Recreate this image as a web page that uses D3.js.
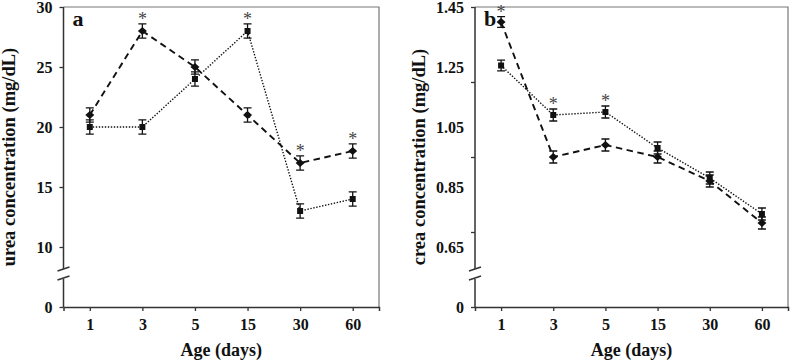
<!DOCTYPE html>
<html>
<head>
<meta charset="utf-8">
<script src="https://cdn.jsdelivr.net/npm/d3@7"></script>
<style>
  body { margin: 0; background: #fff; }
  svg text { font-family: "Liberation Serif", "Times New Roman", serif; fill: #111; }
</style>
</head>
<body>
<div id="chart"></div>
<script>
// ages on the x axis
const ages = ["1", "3", "5", "15", "30", "60"];

// panel a: urea (mg/dL)
const ureaDashed = [21, 28, 25, 21, 17, 18];
const ureaDotted = [20, 20, 24, 28, 13, 14];
const ureaErr = [0.6, 0.6, 0.6, 0.6, 0.6, 0.6];
const ureaStars = ["3", "15", "30", "60"];
const ureaLabels = [0, 10, 15, 20, 25, 30];
const ureaTicks = [0, 10, 15, 20, 25, 30];

// panel b: crea (mg/dL)
const creaDashed = [1.40, 0.95, 0.99, 0.95, 0.87, 0.73];
const creaDotted = [1.255, 1.09, 1.10, 0.98, 0.88, 0.76];
const creaErr = [0.018, 0.02, 0.02, 0.02, 0.02, 0.02];
const creaStars = ["1", "3", "5"];
const creaLabels = [0, 0.65, 0.85, 1.05, 1.25, 1.45];
const creaTicks = [0, 0.7, 0.95, 1.2, 1.45];

const width = 791, height = 362;

const svg = d3.select("#chart")
  .append("svg")
  .attr("width", width)
  .attr("height", height);

function drawPanel(opt) {
  const top = 7, bottom = 307;
  const g = svg.append("g");

  const x = d3.scalePoint()
    .domain(ages)
    .range([opt.left, opt.right])
    .padding(0.5);

  // broken axis: the part under the break is squeezed
  const y = d3.scaleLinear()
    .domain([0, opt.breakAt, opt.max])
    .range([bottom, bottom - 60, top]);

  // frame (top + right)
  g.append("path")
    .attr("d", `M${opt.left},${top}H${opt.right}V${bottom}`)
    .attr("fill", "none")
    .attr("stroke", "#777")
    .attr("stroke-width", 1.2);

  // x axis
  const xAxis = g.append("g")
    .attr("transform", `translate(0,${bottom})`)
    .call(d3.axisBottom(x).tickSizeInner(4).tickSizeOuter(4).tickPadding(8));
  xAxis.select(".domain").attr("stroke", "#333").attr("stroke-width", 1.5);
  xAxis.selectAll(".tick line").attr("stroke", "#333").attr("stroke-width", 1.3);
  xAxis.selectAll("text")
    .attr("font-size", 16)
    .attr("font-weight", "bold")
    .attr("fill", "#111")
    .style("font-family", "'Liberation Serif', serif");

  // y tick marks
  const yTicks = g.append("g")
    .attr("transform", `translate(${opt.left},0)`)
    .call(d3.axisLeft(y).tickValues(opt.ticks).tickSize(4).tickFormat(""));
  yTicks.select(".domain").remove();
  yTicks.selectAll(".tick line").attr("stroke", "#333").attr("stroke-width", 1.3);

  // y labels
  const yLabels = g.append("g")
    .attr("transform", `translate(${opt.left},0)`)
    .call(d3.axisLeft(y).tickValues(opt.labels).tickSize(0).tickPadding(11)
      .tickFormat(d => d === 0 ? "0" : (opt.fmt ? d3.format(opt.fmt)(d) : d)));
  yLabels.select(".domain").remove();
  yLabels.selectAll("text")
    .attr("font-size", 16)
    .attr("font-weight", "bold")
    .attr("fill", "#111")
    .style("font-family", "'Liberation Serif', serif");

  // y axis line with break
  const yb1 = 269, yb2 = 278;
  g.append("path")
    .attr("d", `M${opt.left},${top}V${yb1}M${opt.left},${yb2 + 1}V${bottom}`)
    .attr("stroke", "#333")
    .attr("stroke-width", 1.5);
  [yb1, yb2].forEach(yy => {
    g.append("line")
      .attr("x1", opt.left - 6).attr("y1", yy + 2)
      .attr("x2", opt.left + 6).attr("y2", yy - 2)
      .attr("stroke", "#333")
      .attr("stroke-width", 1.4);
  });

  // lines
  const line = d3.line()
    .x((d, i) => x(ages[i]))
    .y(d => y(d));

  g.append("path")
    .datum(opt.dotted)
    .attr("d", line)
    .attr("fill", "none")
    .attr("stroke", "#111")
    .attr("stroke-width", 1.4)
    .attr("stroke-dasharray", "1.4,1.6");

  g.append("path")
    .datum(opt.dashed)
    .attr("d", line)
    .attr("fill", "none")
    .attr("stroke", "#111")
    .attr("stroke-width", 1.9)
    .attr("stroke-dasharray", "6.5,4.5");

  // error bars
  [opt.dashed, opt.dotted].forEach(series => {
    series.forEach((v, i) => {
      const cx = x(ages[i]);
      const y1 = y(v - opt.err[i]), y2 = y(v + opt.err[i]);
      g.append("path")
        .attr("d", `M${cx},${y1}V${y2}M${cx - 4},${y1}H${cx + 4}M${cx - 4},${y2}H${cx + 4}`)
        .attr("fill", "none")
        .attr("stroke", "#111")
        .attr("stroke-width", 1.3);
    });
  });

  // markers
  g.selectAll(".sq")
    .data(opt.dotted)
    .enter()
    .append("rect")
    .attr("x", (d, i) => x(ages[i]) - 3)
    .attr("y", d => y(d) - 3)
    .attr("width", 6)
    .attr("height", 6)
    .attr("fill", "#111");

  g.selectAll(".dia")
    .data(opt.dashed)
    .enter()
    .append("path")
    .attr("d", (d, i) => {
      const cx = x(ages[i]), cy = y(d);
      return `M${cx - 4.5},${cy}L${cx},${cy - 4}L${cx + 4.5},${cy}L${cx},${cy + 4}Z`;
    })
    .attr("fill", "#111");

  // significance stars
  opt.stars.forEach(a => {
    const i = ages.indexOf(a);
    const hi = Math.max(opt.dashed[i], opt.dotted[i]) + opt.err[i];
    g.append("text")
      .attr("x", x(a))
      .attr("y", y(hi) + 1)
      .attr("text-anchor", "middle")
      .attr("font-size", 18)
      .style("fill", "#444")
      .text("*");
  });

  // panel letter
  g.append("text")
    .attr("x", opt.left + 9)
    .attr("y", 26)
    .attr("font-size", 22)
    .attr("font-weight", "bold")
    .text(opt.letter);

  // axis titles
  g.append("text")
    .attr("x", (opt.left + opt.right) / 2)
    .attr("y", 356)
    .attr("text-anchor", "middle")
    .attr("font-size", 18)
    .attr("font-weight", "bold")
    .text("Age (days)");

  g.append("text")
    .attr("transform", `translate(${opt.titleX},${(top + bottom) / 2}) rotate(-90)`)
    .attr("text-anchor", "middle")
    .attr("font-size", 18.5)
    .attr("font-weight", "bold")
    .text(opt.title);
}

drawPanel({
  left: 63.5, right: 379, titleX: 15,
  breakAt: 10, max: 30,
  dashed: ureaDashed, dotted: ureaDotted, err: ureaErr,
  stars: ureaStars, labels: ureaLabels, ticks: ureaTicks,
  letter: "a", title: "urea concentration (mg/dL)"
});

drawPanel({
  left: 475, right: 788, titleX: 425,
  breakAt: 0.65, max: 1.45, fmt: ".2f",
  dashed: creaDashed, dotted: creaDotted, err: creaErr,
  stars: creaStars, labels: creaLabels, ticks: creaTicks,
  letter: "b", title: "crea concentration (mg/dL)"
});
</script>
</body>
</html>
